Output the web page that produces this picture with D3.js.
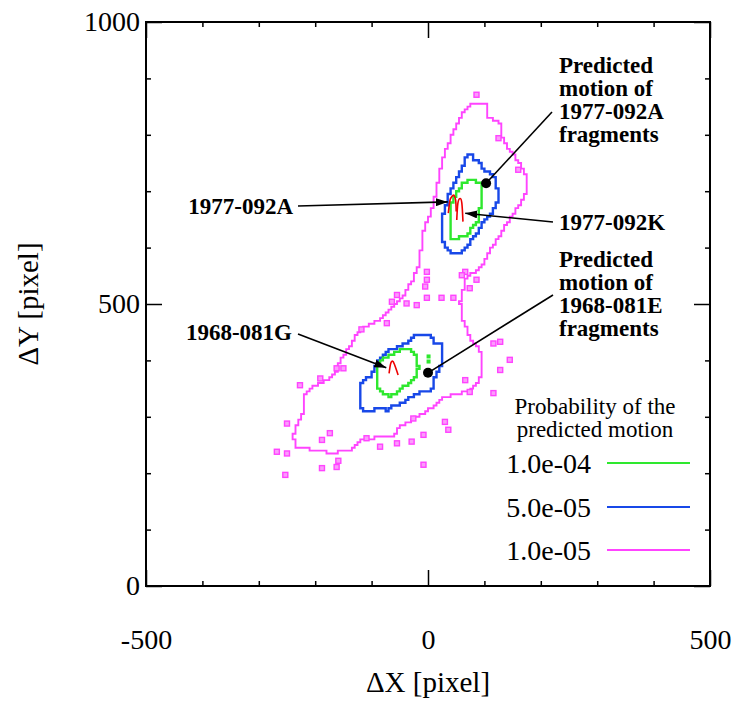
<!DOCTYPE html>
<html>
<head>
<meta charset="utf-8">
<script src="https://cdn.jsdelivr.net/npm/d3@7"></script>
<style>
  body { margin: 0; background: #fff; }
  text { font-family: "Liberation Serif", "Times New Roman", serif; }
</style>
</head>
<body>
<div id="chart"></div>
<script>
// ejes
const xLabelTicks = [-500, 0, 500];
const yLabelTicks = [0, 500, 1000];
const xMinorTicks = [-400, -300, -200, -100, 100, 200, 300, 400];
const yMinorTicks = [100, 200, 300, 400, 600, 700, 800, 900];

// niveles de probabilidad
const levels = ["1.0e-04", "5.0e-05", "1.0e-05"];
const levelColors = ["#2ee82e", "#1848e8", "#ff44ff"];

// contornos (dx, dy) en pixeles
const green1977 = [[75,723],[95,714],[95,690],[92,667],[89,649],[80,637],[69,619],[39,616],[38,649],[39,672],[48,693],[60,711]];
const green1968 = [[-91,383],[-85,401],[-67,410],[-50,418],[-32,418],[-20,407],[-17,389],[-20,371],[-29,362],[-44,353],[-55,342],[-70,336],[-79,342],[-88,353],[-92,365]];
const greenDots = [[1,407],[1,398]];

const blue1977 = [[69,767],[77,767],[80,755],[92,755],[95,739],[110,736],[119,720],[123,702],[123,684],[119,670],[109,658],[98,646],[91,634],[83,619],[71,605],[57,590],[45,590],[33,599],[24,619],[24,637],[28,661],[33,678],[39,699],[50,720],[60,738],[66,755]];
const blue1968 = [[-121,353],[-115,365],[-103,371],[-91,395],[-79,407],[-70,418],[-50,424],[-29,436],[-20,445],[-8,445],[7,442],[9,433],[24,427],[27,415],[24,401],[21,383],[12,371],[12,353],[4,347],[-14,347],[-20,339],[-32,336],[-44,324],[-62,318],[-73,312],[-91,315],[-100,309],[-112,312],[-121,318],[-122,336]];

const magentaOuter = [[77,856],[104,856],[106,832],[128,821],[133,791],[145,773],[158,755],[172,732],[177,707],[168,684],[158,672],[145,649],[133,631],[122,613],[110,596],[101,574],[89,560],[69,548],[62,525],[57,502],[62,472],[74,441],[92,418],[97,395],[92,365],[74,347],[57,342],[27,335],[9,317],[-19,300],[-50,282],[-62,264],[-85,264],[-121,259],[-138,241],[-168,236],[-204,241],[-232,246],[-239,264],[-232,289],[-222,307],[-222,335],[-204,353],[-179,365],[-161,383],[-156,401],[-138,424],[-121,454],[-97,466],[-80,477],[-62,495],[-44,512],[-27,543],[-19,560],[-14,583],[-9,626],[-2,644],[9,672],[16,707],[27,761],[43,800],[57,826],[60,840]];
const magentaDots = [[86,871],[125,794],[160,738],[-2,557],[66,557],[-2,543],[-5,531],[-55,516],[-64,504],[-38,501],[-20,498],[-2,511],[24,511],[45,511],[60,551],[86,543],[74,528],[145,401],[116,430],[128,433],[-73,466],[-118,455],[-191,368],[-227,356],[-162,386],[-150,386],[116,342],[74,344],[66,365],[128,383],[-26,297],[30,291],[36,277],[-8,268],[-29,256],[-55,253],[-85,247],[-109,262],[-174,271],[-188,259],[-250,288],[-268,238],[-250,235],[-188,209],[-162,211],[-253,197],[-8,215],[-159,222]];

// trayectorias observadas
const track1977A = [[36,661],[39,684],[42,690],[46,693],[49,684],[50,664]];
const track1977K = [[51,649],[53,679],[57,687],[60,679],[62,646]];
const track1968G = [[-69,377],[-66,395],[-62,398],[-57,386],[-53,374]];

// movimiento predicho de fragmentos
const fragmentPoints = [[103,714],[0,378]];

const W = 734, H = 722;
const margin = {top: 22, right: 24, bottom: 136, left: 146};
const celda = 5;  // tamaño de la rejilla de los contornos

const svg = d3.select("#chart").append("svg")
    .attr("width", W).attr("height", H);

const x = d3.scaleLinear().domain([-500, 500]).range([margin.left, W - margin.right]);
const y = d3.scaleLinear().domain([0, 1000]).range([H - margin.bottom, margin.top]);

const defs = svg.append("defs");
defs.append("marker")
    .attr("id", "arrow")
    .attr("viewBox", "0 0 12 8")
    .attr("refX", 12).attr("refY", 4)
    .attr("markerWidth", 12).attr("markerHeight", 8)
    .attr("markerUnits", "userSpaceOnUse")
    .attr("orient", "auto")
    .append("path").attr("d", "M0,0 L12,4 L0,8 Z").attr("fill", "#000");

const line = d3.line().x(d => x(d[0])).y(d => y(d[1]));

// contorno escalonado: se rasteriza el poligono en la rejilla y se trazan los bordes de celda
function contornoEscalonado(polys, cell) {
    const pts = polys.flat();
    const x0 = Math.floor(d3.min(pts, d => d[0]) / cell) * cell - cell;
    const y0 = Math.floor(d3.min(pts, d => d[1]) / cell) * cell - cell;
    const nx = Math.ceil((d3.max(pts, d => d[0]) - x0) / cell) + 2;
    const ny = Math.ceil((d3.max(pts, d => d[1]) - y0) / cell) + 2;
    const dentro = new Uint8Array(nx * ny);
    for (let j = 0; j < ny; j++) {
        for (let i = 0; i < nx; i++) {
            const c = [x0 + (i + 0.5) * cell, y0 + (j + 0.5) * cell];
            dentro[j * nx + i] = polys.some(p => d3.polygonContains(p, c)) ? 1 : 0;
        }
    }
    const at = (i, j) => (i >= 0 && j >= 0 && i < nx && j < ny) ? dentro[j * nx + i] : 0;
    const X = i => x(x0 + i * cell).toFixed(1);
    const Y = j => y(y0 + j * cell).toFixed(1);
    let d = "";
    for (let j = 0; j < ny; j++) {
        for (let i = 0; i < nx; i++) {
            if (!at(i, j)) continue;
            if (!at(i - 1, j)) d += `M${X(i)},${Y(j)}L${X(i)},${Y(j + 1)}`;
            if (!at(i + 1, j)) d += `M${X(i + 1)},${Y(j)}L${X(i + 1)},${Y(j + 1)}`;
            if (!at(i, j - 1)) d += `M${X(i)},${Y(j)}L${X(i + 1)},${Y(j)}`;
            if (!at(i, j + 1)) d += `M${X(i)},${Y(j + 1)}L${X(i + 1)},${Y(j + 1)}`;
        }
    }
    return d;
}
function contorno(polys, color, w) {
    svg.append("path")
        .attr("d", contornoEscalonado(polys, celda))
        .attr("fill", "none")
        .attr("stroke", color)
        .attr("stroke-width", w)
        .attr("stroke-linecap", "square");
}
contorno([magentaOuter], levelColors[2], 1.9);
contorno([blue1977, blue1968], levelColors[1], 2.4);
contorno([green1977, green1968], levelColors[0], 2.4);

svg.selectAll(".mdot").data(magentaDots).enter().append("rect")
    .attr("x", d => x(d[0]) - 2.5).attr("y", d => y(d[1]) - 2.5)
    .attr("width", 5).attr("height", 5)
    .attr("fill", "#fb9cfb").attr("stroke", levelColors[2]).attr("stroke-width", 1.4);

svg.selectAll(".gdot").data(greenDots).enter().append("rect")
    .attr("x", d => x(d[0]) - 2).attr("y", d => y(d[1]) - 2)
    .attr("width", 4).attr("height", 4)
    .attr("fill", levelColors[0]);

// trayectorias rojas
[track1977A, track1977K, track1968G].forEach(t => {
    svg.append("path")
        .attr("d", line.curve(d3.curveCardinal)(t))
        .attr("fill", "none")
        .attr("stroke", "#ee0000")
        .attr("stroke-width", 1.6);
});

// puntos negros
svg.selectAll(".frag").data(fragmentPoints).enter().append("circle")
    .attr("cx", d => x(d[0])).attr("cy", d => y(d[1]))
    .attr("r", 5).attr("fill", "#000");

// marco y ticks
const plot = svg.append("g");
plot.append("rect")
    .attr("x", x(-500)).attr("y", y(1000))
    .attr("width", x(500) - x(-500)).attr("height", y(0) - y(1000))
    .attr("fill", "none").attr("stroke", "#000").attr("stroke-width", 2);

function estilo(g) {
    g.select(".domain").remove();
    g.selectAll(".tick line").attr("stroke", "#000").attr("stroke-width", 1.5);
    g.selectAll(".tick text").attr("font-size", 28).attr("fill", "#000")
        .style("font-family", "'Liberation Serif', serif");
}
const fmt = d => String(d);
const bottomY = y(0), topY = y(1000), leftX = x(-500), rightX = x(500);

plot.append("g").attr("transform", `translate(0,${bottomY})`)
    .call(d3.axisBottom(x).tickValues(xLabelTicks).tickSize(-16).tickPadding(43).tickFormat(fmt)).call(estilo);
plot.append("g").attr("transform", `translate(0,${bottomY})`)
    .call(d3.axisBottom(x).tickValues(xMinorTicks).tickSize(-5).tickFormat("")).call(estilo);
plot.append("g").attr("transform", `translate(0,${topY})`)
    .call(d3.axisTop(x).tickValues(xLabelTicks).tickSize(-16).tickFormat("")).call(estilo);
plot.append("g").attr("transform", `translate(0,${topY})`)
    .call(d3.axisTop(x).tickValues(xMinorTicks).tickSize(-5).tickFormat("")).call(estilo);
plot.append("g").attr("transform", `translate(${leftX},0)`)
    .call(d3.axisLeft(y).tickValues(yLabelTicks).tickSize(-16).tickPadding(6).tickFormat(fmt)).call(estilo);
plot.append("g").attr("transform", `translate(${leftX},0)`)
    .call(d3.axisLeft(y).tickValues(yMinorTicks).tickSize(-5).tickFormat("")).call(estilo);
plot.append("g").attr("transform", `translate(${rightX},0)`)
    .call(d3.axisRight(y).tickValues(yLabelTicks).tickSize(-16).tickFormat("")).call(estilo);
plot.append("g").attr("transform", `translate(${rightX},0)`)
    .call(d3.axisRight(y).tickValues(yMinorTicks).tickSize(-5).tickFormat("")).call(estilo);

// titulos de ejes
svg.append("text")
    .attr("x", x(0)).attr("y", 692)
    .attr("text-anchor", "middle").attr("font-size", 29)
    .text("ΔX [pixel]");
svg.append("text")
    .attr("transform", `translate(38,${y(500)}) rotate(-90)`)
    .attr("text-anchor", "middle").attr("font-size", 29)
    .text("ΔY [pixel]");

// anotaciones
const ann = svg.append("g").attr("font-size", 23).attr("font-weight", "bold");
function bloque(lines, x0, y0) {
    lines.forEach((t, i) => ann.append("text").attr("x", x0).attr("y", y0 + i * 23).text(t));
}
bloque(["Predicted", "motion of", "1977-092A", "fragments"], 559, 73);
bloque(["Predicted", "motion of", "1968-081E", "fragments"], 559, 267);
ann.append("text").attr("x", 293).attr("y", 214).attr("text-anchor", "end").text("1977-092A");
ann.append("text").attr("x", 559).attr("y", 230).text("1977-092K");
ann.append("text").attr("x", 292).attr("y", 340).attr("text-anchor", "end").text("1968-081G");

function flecha(x1, y1, target, head) {
    const l = svg.append("line")
        .attr("x1", x1).attr("y1", y1)
        .attr("x2", x(target[0])).attr("y2", y(target[1]))
        .attr("stroke", "#000").attr("stroke-width", 1.6);
    if (head) l.attr("marker-end", "url(#arrow)");
}
flecha(298, 206, [35, 681], true);
flecha(553, 222, [66, 661], true);
flecha(298, 334, [-74, 387], true);
flecha(552, 112, fragmentPoints[0], false);
flecha(553, 295, fragmentPoints[1], false);

// leyenda
const leg = svg.append("g");
leg.append("text").attr("x", 595).attr("y", 414).attr("text-anchor", "middle")
    .attr("font-size", 23).text("Probability of the");
leg.append("text").attr("x", 595).attr("y", 437).attr("text-anchor", "middle")
    .attr("font-size", 23).text("predicted motion");
const legY = [463, 507, 550];
levels.forEach((lab, i) => {
    leg.append("text").attr("x", 591).attr("y", legY[i]).attr("dy", "0.35em")
        .attr("text-anchor", "end").attr("font-size", 28).text(lab);
    leg.append("line").attr("x1", 607).attr("x2", 690)
        .attr("y1", legY[i]).attr("y2", legY[i])
        .attr("stroke", levelColors[i]).attr("stroke-width", 2);
});
</script>
</body>
</html>
